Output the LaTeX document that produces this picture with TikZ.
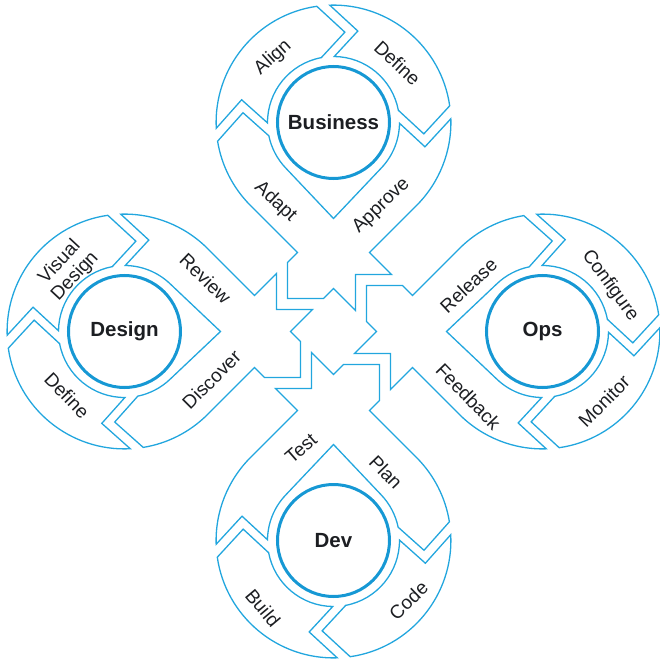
\documentclass[tikz,border=0pt]{standalone}
\usepackage{fontspec}
\setmainfont{Liberation Sans}
\usetikzlibrary{calc}
\definecolor{ringblue}{RGB}{34,166,222}
\definecolor{coreblue}{RGB}{22,152,212}
\definecolor{ink}{RGB}{28,30,34}
\tikzset{
  segment/.style={draw=ringblue, line width=1.3pt, line join=miter, miter limit=10},
  core/.style={circle, draw=coreblue, line width=3pt, minimum size=112pt, inner sep=0pt, text=ink, font=\fontsize{20.5}{24}\selectfont\bfseries},
  steplabel/.style={text=ink, inner sep=0pt, align=center, font=\fontsize{19}{21}\selectfont},
}
\newcommand\PetRo{117.4}
\newcommand\PetRi{66}
% ring segment from notch #1 (start, concave) clockwise to notch #2 (end, pointed)
\newcommand\ringseg[2]{%
  \draw[segment] (#1-3.172:\PetRo) -- (#1-19.89:94.65) -- (#1-5.643:\PetRi)
    arc[start angle=#1-5.643, end angle=#2+5.643, radius=\PetRi]
    -- (#2-12.17:91.05) -- (#2+3.172:\PetRo)
    arc[start angle=#2+3.172, end angle=#1-3.172, radius=\PetRo] -- cycle;}
% lower teardrop region pointing to the middle of the diagram
\newcommand\tearseg{%
  \draw[segment] (5-3.172:\PetRo) -- (5-19.89:94.65) -- (5-5.643:\PetRi)
    arc[start angle=5-5.643, end angle=-43.43, radius=\PetRi] -- (0,-96) -- (-136.57:\PetRi)
    arc[start angle=-136.57, end angle=-168.357, radius=\PetRi]
    -- (-186.17:91.05) -- (-170.828:\PetRo)
    arc[start angle=-170.828, end angle=-135, radius=\PetRo]
    -- (-36,-130) -- (-46,-140) -- (-46,-176) -- (-10,-176) -- (0,-166)
    -- (22,-188) -- (22,-152) -- (58,-152) -- (36,-130)
    -- (-45:\PetRo) arc[start angle=-45, end angle=1.828, radius=\PetRo] -- cycle;}
\begin{document}
\begin{tikzpicture}[x=1pt,y=1pt]
\useasboundingbox (-333.5,-332.5) rectangle (326.5,331.5);
% Business
\begin{scope}[shift={(0,209)}]
  \ringseg{186}{95}
  \ringseg{95}{5}
  \tearseg
  \node[core] (business) at (0,0) {Business};
\end{scope}
% Ops
\begin{scope}[shift={(209,0)}, rotate=-90]
  \ringseg{186}{95}
  \ringseg{95}{5}
  \tearseg
  \node[core] (ops) at (0,0) {Ops};
\end{scope}
% Dev
\begin{scope}[shift={(0,-209)}, rotate=180]
  \ringseg{186}{95}
  \ringseg{95}{5}
  \tearseg
  \node[core] (dev) at (0,0) {Dev};
\end{scope}
% Design
\begin{scope}[shift={(-209,0)}, rotate=90]
  \ringseg{186}{95}
  \ringseg{95}{5}
  \tearseg
  \node[core] (design) at (0,0) {Design};
\end{scope}
% Business labels
\node[steplabel, rotate=42] (align) at (-60.5,274) {Align};
\node[steplabel, rotate=-43] (bdefine) at (64,268.5) {Define};
\node[steplabel, rotate=-43] (adapt) at (-58,129.5) {Adapt};
\node[steplabel, rotate=44] (approve) at (48,125.5) {Approve};
% Design labels
\node[steplabel, rotate=47] (visual) at (-266,62) {Visual\\Design};
\node[steplabel, rotate=-44] (review) at (-128,53) {Review};
\node[steplabel, rotate=45] (discover) at (-122,-48) {Discover};
\node[steplabel, rotate=-46] (ddefine) at (-266.5,-64) {Define};
% Ops labels
\node[steplabel, rotate=43] (release) at (135,46) {Release};
\node[steplabel, rotate=-54] (configure) at (276.5,46) {Configure};
\node[steplabel, rotate=-46] (feedback) at (135,-65) {Feedback};
\node[steplabel, rotate=45] (monitor) at (270.5,-69.5) {Monitor};
% Dev labels
\node[steplabel, rotate=41] (test) at (-32.5,-117) {Test};
\node[steplabel, rotate=-46] (plan) at (52.5,-140.5) {Plan};
\node[steplabel, rotate=44] (code) at (75,-269) {Code};
\node[steplabel, rotate=-50] (build) at (-70.5,-276.5) {Build};
\end{tikzpicture}
\end{document}
